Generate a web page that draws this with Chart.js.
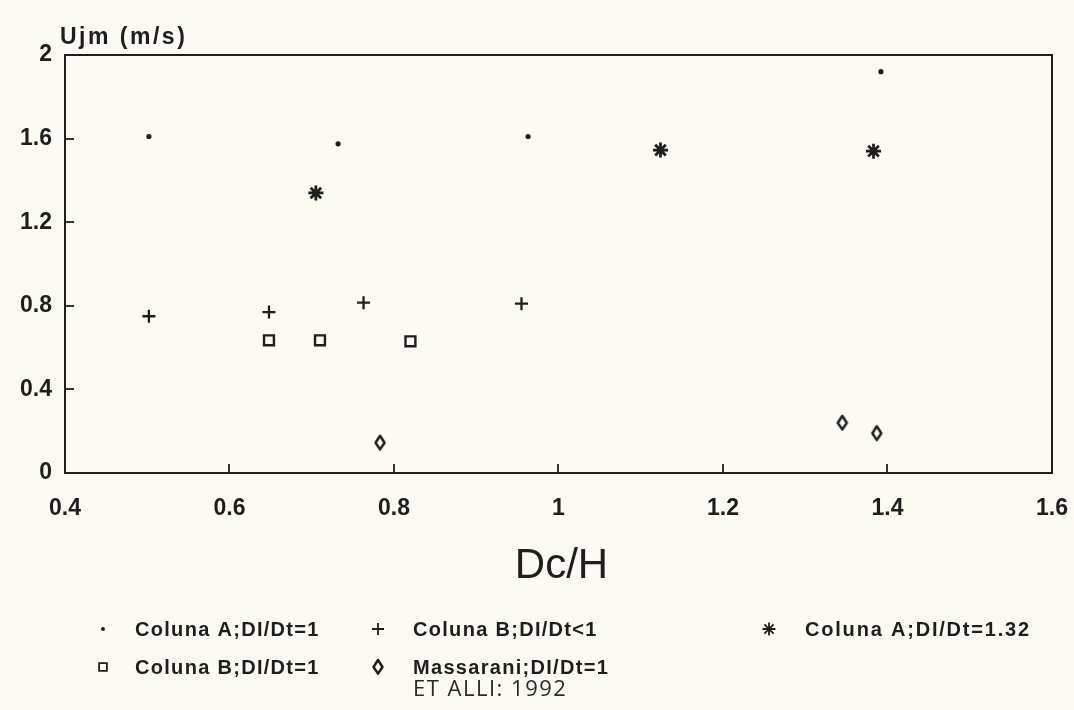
<!DOCTYPE html>
<html>
<head>
<meta charset="utf-8">
<script src="https://cdn.jsdelivr.net/npm/chart.js@4/dist/chart.umd.min.js"></script>
<style>
  html, body { margin: 0; padding: 0; background: #fbfbf4; }
  #wrap { width: 1074px; height: 710px; position: relative; }
</style>
</head>
<body>
<div id="wrap"><canvas id="chart" width="1074" height="710"></canvas></div>
<script>
// Dc/H (x) and Ujm in m/s (y) for each series
const colunaA1_x   = [0.502, 0.732, 0.963, 1.392];
const colunaA1_y   = [1.61, 1.575, 1.61, 1.92];

const colunaBlt1_x = [0.502, 0.648, 0.763, 0.955];
const colunaBlt1_y = [0.75, 0.77, 0.815, 0.81];

const colunaA132_x = [0.705, 1.124, 1.383];
const colunaA132_y = [1.34, 1.545, 1.54];

const colunaB1_x   = [0.648, 0.71, 0.82];
const colunaB1_y   = [0.635, 0.635, 0.63];

const massarani_x  = [0.783, 1.345, 1.387];
const massarani_y  = [0.145, 0.24, 0.19];

// axis ticks and their printed labels
const xTickValues = [0.4, 0.6, 0.8, 1.0, 1.2, 1.4, 1.6];
const xTickLabels = ['0.4', '0.6', '0.8', '1', '1.2', '1.4', '1.6'];
const yTickValues = [0, 0.4, 0.8, 1.2, 1.6, 2.0];
const yTickLabels = ['0', '0.4', '0.8', '1.2', '1.6', '2'];

const seriesNames = [
  'Coluna A;DI/Dt=1',
  'Coluna B;DI/Dt<1',
  'Coluna A;DI/Dt=1.32',
  'Coluna B;DI/Dt=1',
  'Massarani;DI/Dt=1'
];
const legendNote = 'ET ALLI: 1992';
const yTitle = 'Ujm (m/s)';
const xTitle = 'Dc/H';

const INK = '#1e1e1e';
const FONT = '"Liberation Sans", Arial, sans-serif';

function pairs(xs, ys) { return xs.map((x, i) => ({ x: x, y: ys[i] })); }

// narrow open diamond used for the Massarani series
function makeDiamond() {
  const c = document.createElement('canvas');
  c.width = 14; c.height = 18;
  const g = c.getContext('2d');
  g.strokeStyle = INK;
  g.lineWidth = 2.5;
  g.lineJoin = 'round';
  g.beginPath();
  g.moveTo(7, 2); g.lineTo(11.5, 9); g.lineTo(7, 15.6); g.lineTo(2.5, 9);
  g.closePath();
  g.stroke();
  return c;
}
const diamond = makeDiamond();

const styles = [
  { pointStyle: 'circle', radius: 2.6, borderWidth: 0, backgroundColor: INK },
  { pointStyle: 'cross', radius: 6.5, borderWidth: 2.3, backgroundColor: 'transparent' },
  { pointStyle: 'star', radius: 7.5, borderWidth: 2.8, backgroundColor: 'transparent' },
  { pointStyle: 'rect', radius: 7, borderWidth: 2.4, backgroundColor: 'transparent' },
  { pointStyle: diamond, radius: 6, borderWidth: 2.4, backgroundColor: 'transparent' }
];

const dataSets = [
  pairs(colunaA1_x, colunaA1_y),
  pairs(colunaBlt1_x, colunaBlt1_y),
  pairs(colunaA132_x, colunaA132_y),
  pairs(colunaB1_x, colunaB1_y),
  pairs(massarani_x, massarani_y)
];

const datasets = dataSets.map((d, i) => ({
  label: seriesNames[i],
  data: d,
  showLine: false,
  pointStyle: styles[i].pointStyle,
  pointRadius: styles[i].radius,
  pointHoverRadius: styles[i].radius,
  pointBorderWidth: styles[i].borderWidth,
  pointBorderColor: INK,
  pointBackgroundColor: styles[i].backgroundColor
}));

// frame, inward tick marks, titles and the legend block under the chart
const decorations = {
  id: 'decorations',
  afterDraw(chart) {
    const ctx = chart.ctx;
    const a = chart.chartArea;
    const xs = chart.scales.x, ys = chart.scales.y;
    ctx.save();
    ctx.strokeStyle = INK;
    ctx.lineWidth = 2;
    ctx.strokeRect(a.left, a.top, a.right - a.left, a.bottom - a.top);

    ctx.lineWidth = 1.8;
    xTickValues.slice(1, -1).forEach(v => {
      const px = Math.round(xs.getPixelForValue(v));
      ctx.beginPath(); ctx.moveTo(px, a.bottom); ctx.lineTo(px, a.bottom - 9); ctx.stroke();
    });
    yTickValues.slice(1, -1).forEach(v => {
      const py = Math.round(ys.getPixelForValue(v));
      ctx.beginPath(); ctx.moveTo(a.left, py); ctx.lineTo(a.left + 9, py); ctx.stroke();
    });

    ctx.fillStyle = INK;
    ctx.textBaseline = 'alphabetic';
    ctx.textAlign = 'left';
    ctx.font = 'bold 23px ' + FONT;
    ctx.letterSpacing = '2.5px';
    ctx.fillText(yTitle, 60, 44);

    ctx.textAlign = 'center';
    ctx.textBaseline = 'middle';
    ctx.font = '42px ' + FONT;
    ctx.letterSpacing = '0px';
    ctx.fillText(xTitle, (a.left + a.right) / 2 + 3, 566);

    // legend: two rows, three columns
    const cols = [103, 378, 769];
    const textX = [135, 413, 805];
    const rows = [629, 667];
    const slots = [[0, 0], [0, 1], [0, 2], [1, 0], [1, 1]];
    ctx.textAlign = 'left';
    slots.forEach((s, i) => {
      const y = rows[s[0]];
      const x = cols[s[1]];
      const st = styles[i];
      const legendRadius = i === 0 ? 2 : (i === 2 ? 6.5 : (i === 3 ? 5.5 : st.radius - 0.5));
      ctx.fillStyle = i === 0 ? INK : 'rgba(0,0,0,0)';
      ctx.strokeStyle = INK;
      Chart.helpers.drawPoint(ctx, {
        pointStyle: st.pointStyle,
        radius: legendRadius,
        borderWidth: st.borderWidth,
        rotation: 0
      }, x, y);
      ctx.fillStyle = INK;
      ctx.font = 'bold 20px ' + FONT;
      ctx.letterSpacing = i === 2 ? '1.8px' : '1.3px';
      ctx.fillText(seriesNames[i], textX[s[1]], y + 1);
    });
    ctx.font = '22px "Open Sans", "DejaVu Sans", sans-serif';
    ctx.letterSpacing = '1.5px';
    ctx.fillStyle = '#2a2a2a';
    ctx.fillText(legendNote, 413, 690);
    ctx.restore();
  }
};

new Chart(document.getElementById('chart'), {
  type: 'scatter',
  data: { datasets: datasets },
  plugins: [decorations],
  options: {
    responsive: false,
    animation: false,
    layout: { padding: { top: 55, right: 22, left: 0, bottom: 0 } },
    plugins: { legend: { display: false }, tooltip: { enabled: false } },
    scales: {
      x: {
        type: 'linear',
        min: 0.4, max: 1.6,
        afterFit(s) { s.height = 710 - 55 - 418; s.paddingLeft = 0; s.paddingRight = 0; },
        afterBuildTicks(s) { s.ticks = xTickValues.map(v => ({ value: v })); },
        grid: { display: false, drawTicks: false },
        border: { display: false },
        ticks: {
          padding: 22,
          color: INK,
          font: { family: FONT, size: 23, weight: 'bold' },
          maxRotation: 0,
          autoSkip: false,
          callback: (v, i) => xTickLabels[i]
        }
      },
      y: {
        type: 'linear',
        min: 0, max: 2,
        afterFit(s) { s.width = 65; s.paddingTop = 0; s.paddingBottom = 0; },
        afterBuildTicks(s) { s.ticks = yTickValues.map(v => ({ value: v })); },
        grid: { display: false, drawTicks: false },
        border: { display: false },
        ticks: {
          padding: 13,
          color: INK,
          font: { family: FONT, size: 23, weight: 'bold' },
          autoSkip: false,
          callback: (v, i) => yTickLabels[i]
        }
      }
    }
  }
});
</script>
</body>
</html>
